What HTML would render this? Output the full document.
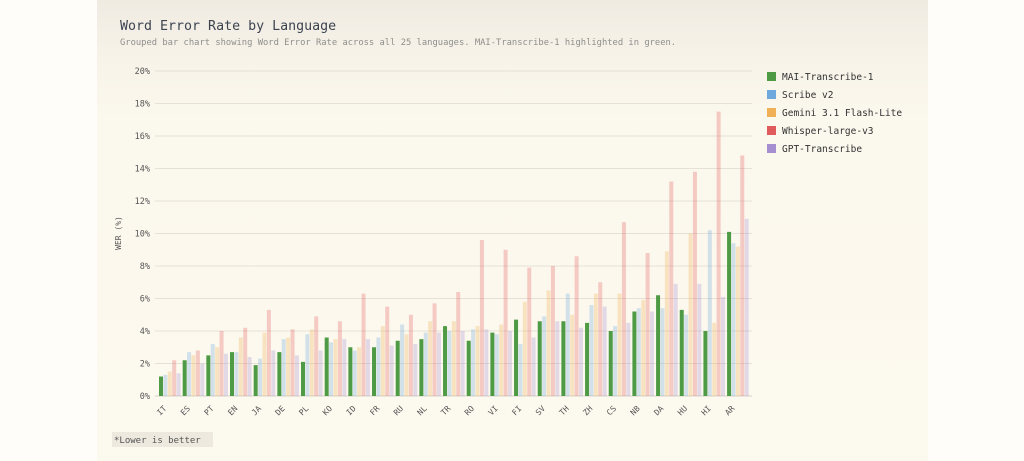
<!DOCTYPE html>
<html><head><meta charset="utf-8"><style>
body{margin:0;width:1024px;height:461px;background:#fefdf9;overflow:hidden;font-family:"DejaVu Sans Mono","Liberation Mono",monospace;}
.card{position:absolute;left:97px;top:0;width:831px;height:461px;background:linear-gradient(#efebe2 0px,#f7f3e9 60px,#fbf8ee 120px,#fcf9ef 100%);}
</style></head><body>
<div class="card"></div>
<svg width="1024" height="461" style="position:absolute;left:0;top:0" font-family="DejaVu Sans Mono, Liberation Mono, monospace">
<text x="120" y="30" font-size="13.3" fill="#3d4450">Word Error Rate by Language</text>
<text x="120" y="45" font-size="8.8" fill="#8e8e8a">Grouped bar chart showing Word Error Rate across all 25 languages. MAI-Transcribe-1 highlighted in green.</text>
<g id="grid"></g>
<g id="bars"></g>
<g id="labels"></g>
<text transform="translate(121,233) rotate(-90)" font-size="8" fill="#555" text-anchor="middle">WER (%)</text>
<rect x="112" y="432" width="101" height="15" fill="#ede9df"/>
<text x="114" y="443" font-size="9" fill="#555">*Lower is better</text>
<g font-size="9.5" fill="#333">
<rect x="767" y="72" width="9" height="9" fill="#4e9a45"/><text x="782" y="80">MAI-Transcribe-1</text>
<rect x="767" y="90" width="9" height="9" fill="#6fa8dc"/><text x="782" y="98">Scribe v2</text>
<rect x="767" y="108" width="9" height="9" fill="#f0b057"/><text x="782" y="116">Gemini 3.1 Flash-Lite</text>
<rect x="767" y="126" width="9" height="9" fill="#e05c5c"/><text x="782" y="134">Whisper-large-v3</text>
<rect x="767" y="144" width="9" height="9" fill="#a58fd0"/><text x="782" y="152">GPT-Transcribe</text>
</g>
</svg>
<script>
const d=[["IT",1.2,1.3,1.5,2.2,1.4],["ES",2.2,2.7,2.5,2.8,2.0],["PT",2.5,3.2,3.0,4.0,2.6],["EN",2.7,2.7,3.6,4.2,2.4],["JA",1.9,2.3,3.9,5.3,2.8],["DE",2.7,3.5,3.6,4.1,2.5],["PL",2.1,3.8,4.1,4.9,2.8],["KO",3.6,3.3,3.5,4.6,3.5],["ID",3.0,2.8,3.0,6.3,3.5],["FR",3.0,3.6,4.3,5.5,3.1],["RU",3.4,4.4,3.8,5.0,3.2],["NL",3.5,3.9,4.6,5.7,3.9],["TR",4.3,4.0,4.6,6.4,4.0],["RO",3.4,4.1,4.3,9.6,4.1],["VI",3.9,3.8,4.4,9.0,4.0],["FI",4.7,3.2,5.8,7.9,3.6],["SV",4.6,4.9,6.5,8.0,4.6],["TH",4.6,6.3,5.0,8.6,4.2],["ZH",4.5,5.6,6.3,7.0,5.5],["CS",4.0,4.3,6.3,10.7,4.5],["NB",5.2,5.4,5.9,8.8,5.2],["DA",6.2,5.4,8.9,13.2,6.9],["HU",5.3,5.0,10.0,13.8,6.9],["HI",4.0,10.2,4.5,17.5,6.1],["AR",10.1,9.4,9.2,14.8,10.9]];
const cols=["#4e9a45","#6fa8dc","#f0b057","#e05c5c","#a58fd0"];
const y0=396,k=16.25,ns="http://www.w3.org/2000/svg";
function el(t,a,p,txt){const e=document.createElementNS(ns,t);for(const i in a)e.setAttribute(i,a[i]);if(txt)e.textContent=txt;document.getElementById(p).appendChild(e);}
for(let v=0;v<=20;v+=2){const y=y0-v*k;el("line",{x1:155,x2:752,y1:y,y2:y,stroke:v?"#e6e1d6":"#d6d1c6","stroke-width":1},"grid");el("text",{x:150,y:y+3,"font-size":8.5,fill:"#555","text-anchor":"end"},"grid",v+"%");}
d.forEach((r,i)=>{const gx=159+i*23.67;for(let j=0;j<5;j++){const h=r[j+1]*k;el("rect",{x:gx+j*4.4,y:y0-h,width:4,height:h,fill:cols[j],opacity:j?0.3:1},"bars");}
const lx=gx+8;el("text",{transform:`translate(${lx},${y0+13}) rotate(-45)`,"font-size":8,fill:"#555","text-anchor":"end"},"labels",r[0]);});
</script>
</body></html>
